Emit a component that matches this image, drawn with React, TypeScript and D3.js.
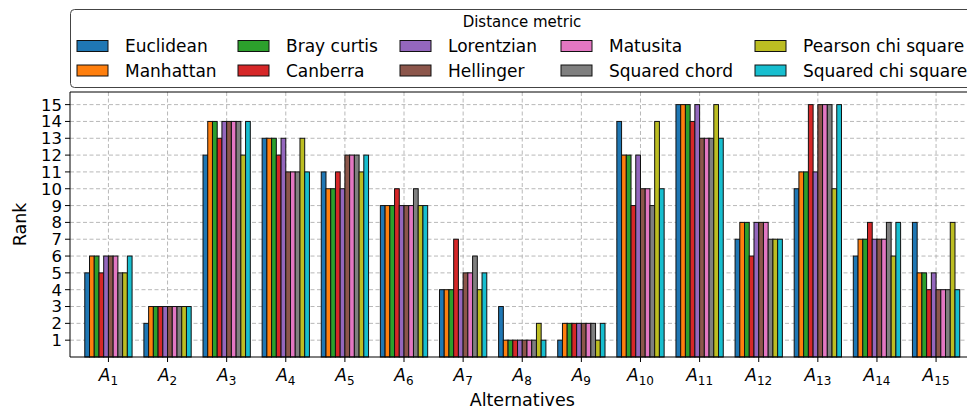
import React from "react";
import * as d3 from "d3";

// alternatives A1..A15
const alternatives = d3.range(1, 16);

const metrics = [
  "Euclidean",
  "Manhattan",
  "Bray curtis",
  "Canberra",
  "Lorentzian",
  "Hellinger",
  "Matusita",
  "Squared chord",
  "Pearson chi square",
  "Squared chi square",
];

const colors = [
  "#1f77b4",
  "#ff7f0e",
  "#2ca02c",
  "#d62728",
  "#9467bd",
  "#8c564b",
  "#e377c2",
  "#7f7f7f",
  "#bcbd22",
  "#17becf",
];

// rank of each alternative, one array per metric
const euclidean = [5, 2, 12, 13, 11, 9, 4, 3, 1, 14, 15, 7, 10, 6, 8];
const manhattan = [6, 3, 14, 13, 10, 9, 4, 1, 2, 12, 15, 8, 11, 7, 5];
const brayCurtis = [6, 3, 14, 13, 10, 9, 4, 1, 2, 12, 15, 8, 11, 7, 5];
const canberra = [5, 3, 13, 12, 11, 10, 7, 1, 2, 9, 14, 6, 15, 8, 4];
const lorentzian = [6, 3, 14, 13, 10, 9, 4, 1, 2, 12, 15, 8, 11, 7, 5];
const hellinger = [6, 3, 14, 11, 12, 9, 5, 1, 2, 10, 13, 8, 15, 7, 4];
const matusita = [6, 3, 14, 11, 12, 9, 5, 1, 2, 10, 13, 8, 15, 7, 4];
const squaredChord = [5, 3, 14, 11, 12, 10, 6, 1, 2, 9, 13, 7, 15, 8, 4];
const pearsonChi = [5, 3, 12, 13, 11, 9, 4, 2, 1, 14, 15, 7, 10, 6, 8];
const squaredChi = [6, 3, 14, 11, 12, 9, 5, 1, 2, 10, 13, 7, 15, 8, 4];

const series = [
  euclidean,
  manhattan,
  brayCurtis,
  canberra,
  lorentzian,
  hellinger,
  matusita,
  squaredChord,
  pearsonChi,
  squaredChi,
];

const yTicks = d3.range(1, 16);

const W = 967;
const H = 412;
const left = 70;
const top = 92;
const bottom = 357;
const axRight = 974.5;

const barW = 0.08;
const font = "'DejaVu Sans', sans-serif";

// legend layout (5 columns x 2 rows)
const legendCols = [77, 238, 400, 561, 755];

export default function App() {
  const x = d3.scaleLinear().domain([-0.65, 14.65]).range([left, axRight]);
  const y = d3.scaleLinear().domain([0, 15.75]).range([bottom, top]);
  const bw = x(barW) - x(0);

  return (
    <div style={{ position: "fixed", left: 0, top: 0 }}>
      <svg width={W} height={H} style={{ display: "block", overflow: "hidden" }} fontFamily={font}>
        <rect width={W} height={H} fill="#fff" />

        {/* grid */}
        <g stroke="#b0b0b0" strokeWidth={0.9} strokeDasharray="4,2.5">
          {yTicks.map((t) => (
            <line key={"gy" + t} x1={left} x2={axRight} y1={y(t)} y2={y(t)} />
          ))}
          {alternatives.map((a, i) => (
            <line key={"gx" + a} x1={x(i)} x2={x(i)} y1={top} y2={bottom} />
          ))}
        </g>

        {/* bars */}
        {series.map((vals, j) => (
          <g key={metrics[j]} fill={colors[j]} stroke="#111" strokeWidth={1}>
            {vals.map((v, i) => (
              <rect
                key={i}
                x={x(i + (j - 5) * barW)}
                y={y(v)}
                width={bw}
                height={y(0) - y(v)}
              />
            ))}
          </g>
        ))}

        {/* axes frame */}
        <g stroke="#000" strokeWidth={1} fill="none">
          <line x1={left} x2={left} y1={top} y2={bottom} />
          <line x1={left} x2={axRight} y1={bottom} y2={bottom} />
          <line x1={left} x2={axRight} y1={top} y2={top} />
          <line x1={axRight} x2={axRight} y1={top} y2={bottom} />
        </g>

        {/* y ticks */}
        {yTicks.map((t) => (
          <g key={"yt" + t}>
            <line x1={left - 5} x2={left} y1={y(t)} y2={y(t)} stroke="#000" />
            <text x={left - 8} y={y(t)} dy="0.36em" textAnchor="end" fontSize={16.5}>
              {t}
            </text>
          </g>
        ))}

        {/* x ticks */}
        {alternatives.map((a, i) => (
          <g key={"xt" + a}>
            <line x1={x(i)} x2={x(i)} y1={bottom} y2={bottom + 5} stroke="#000" />
            <text x={x(i)} y={bottom + 24} textAnchor="middle" fontSize={17}>
              <tspan fontStyle="italic">A</tspan>
              <tspan fontSize={12} dy={4}>
                {a}
              </tspan>
            </text>
          </g>
        ))}

        <text x={(left + axRight) / 2} y={406} textAnchor="middle" fontSize={17.5}>
          Alternatives
        </text>
        <text
          transform={`translate(26,${(top + bottom) / 2}) rotate(-90)`}
          textAnchor="middle"
          fontSize={17.5}
        >
          Rank
        </text>

        {/* legend */}
        <rect
          x={70.5}
          y={9.5}
          width={905}
          height={78}
          rx={4}
          fill="#fff"
          stroke="#444"
          strokeWidth={1}
        />
        <text x={522} y={27} textAnchor="middle" fontSize={15}>
          Distance metric
        </text>
        {metrics.map((m, k) => {
          const col = Math.floor(k / 2);
          const row = k % 2;
          const lx = legendCols[col];
          const ly = 40.5 + row * 24.5;
          return (
            <g key={"lg" + m}>
              <rect x={lx} y={ly} width={31} height={11} fill={colors[k]} stroke="#111" />
              <text x={lx + 48} y={ly + 11.5} fontSize={17}>
                {m}
              </text>
            </g>
          );
        })}
      </svg>
    </div>
  );
}
